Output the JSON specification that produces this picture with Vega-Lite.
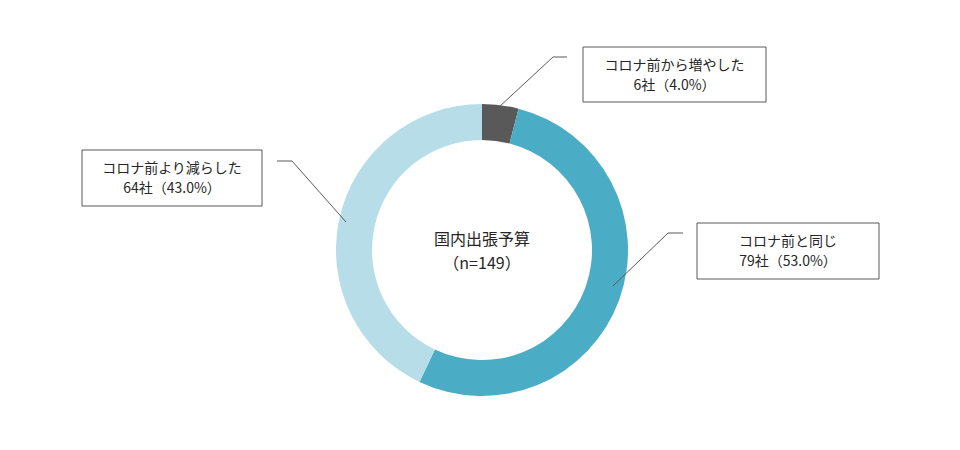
{
  "$schema": "https://vega.github.io/schema/vega-lite/v6.json",
  "width": 960,
  "height": 450,
  "autosize": {"type": "fit", "contains": "padding"},
  "padding": 0,
  "background": "white",
  "config": {
    "view": {"stroke": null},
    "font": "Noto Sans CJK JP",
    "text": {"font": "Noto Sans CJK JP", "color": "#262626"}
  },
  "datasets": {
    "budget": [
      {"category": "コロナ前から増やした", "count": 6, "pct": 4.0, "order": 1},
      {"category": "コロナ前と同じ", "count": 79, "pct": 53.0, "order": 2},
      {"category": "コロナ前より減らした", "count": 64, "pct": 43.0, "order": 3}
    ],
    "callouts": [
      {"category": "コロナ前から増やした", "x": 583, "x2": 766, "y": 47, "y2": 102, "label": ["コロナ前から増やした", "6社（4.0%）"]},
      {"category": "コロナ前より減らした", "x": 82, "x2": 262, "y": 150, "y2": 206, "label": ["コロナ前より減らした", "64社（43.0%）"]},
      {"category": "コロナ前と同じ", "x": 697, "x2": 879, "y": 223, "y2": 279, "label": ["コロナ前と同じ", "79社（53.0%）"]}
    ],
    "leaders": [
      {"category": "コロナ前から増やした", "seq": 1, "x": 498, "y": 108},
      {"category": "コロナ前から増やした", "seq": 2, "x": 553, "y": 57},
      {"category": "コロナ前から増やした", "seq": 3, "x": 567, "y": 57},
      {"category": "コロナ前より減らした", "seq": 1, "x": 346, "y": 222},
      {"category": "コロナ前より減らした", "seq": 2, "x": 292, "y": 161},
      {"category": "コロナ前より減らした", "seq": 3, "x": 277, "y": 161},
      {"category": "コロナ前と同じ", "seq": 1, "x": 613, "y": 286},
      {"category": "コロナ前と同じ", "seq": 2, "x": 668, "y": 233},
      {"category": "コロナ前と同じ", "seq": 3, "x": 683, "y": 233}
    ],
    "center": [
      {"x": 482, "y": 240, "label": "国内出張予算"},
      {"x": 482, "y": 264, "label": "（n=149）"}
    ]
  },
  "layer": [
    {
      "data": {"name": "budget"},
      "mark": {"type": "arc", "outerRadius": 146, "innerRadius": 110},
      "encoding": {
        "x": {"datum": 482, "type": "quantitative", "scale": {"domain": [0, 960], "nice": false, "zero": false}, "axis": null},
        "y": {"datum": 250, "type": "quantitative", "scale": {"domain": [0, 450], "nice": false, "zero": false, "reverse": true}, "axis": null},
        "theta": {"field": "count", "type": "quantitative", "stack": true},
        "order": {"field": "order", "type": "quantitative"},
        "color": {
          "field": "category",
          "type": "nominal",
          "scale": {
            "domain": ["コロナ前から増やした", "コロナ前と同じ", "コロナ前より減らした"],
            "range": ["#595959", "#4BACC6", "#B7DEE8"]
          },
          "legend": null
        }
      }
    },
    {
      "data": {"name": "center"},
      "mark": {"type": "text", "fontSize": 16, "align": "center", "baseline": "middle"},
      "encoding": {
        "x": {"field": "x", "type": "quantitative"},
        "y": {"field": "y", "type": "quantitative"},
        "text": {"field": "label"}
      }
    },
    {
      "data": {"name": "leaders"},
      "mark": {"type": "line", "color": "#595959", "strokeWidth": 1},
      "encoding": {
        "x": {"field": "x", "type": "quantitative"},
        "y": {"field": "y", "type": "quantitative"},
        "detail": {"field": "category"},
        "order": {"field": "seq"}
      }
    },
    {
      "data": {"name": "callouts"},
      "mark": {"type": "rect", "fill": "white", "stroke": "#595959", "strokeWidth": 1},
      "encoding": {
        "x": {"field": "x", "type": "quantitative"},
        "x2": {"field": "x2"},
        "y": {"field": "y", "type": "quantitative"},
        "y2": {"field": "y2"}
      }
    },
    {
      "data": {"name": "callouts"},
      "transform": [
        {"calculate": "(datum.x + datum.x2) / 2", "as": "cx"},
        {"calculate": "(datum.y + datum.y2) / 2 - 9", "as": "cy"}
      ],
      "mark": {"type": "text", "fontSize": 14, "lineHeight": 20, "align": "center", "baseline": "middle"},
      "encoding": {
        "x": {"field": "cx", "type": "quantitative"},
        "y": {"field": "cy", "type": "quantitative"},
        "text": {"field": "label"}
      }
    }
  ]
}
